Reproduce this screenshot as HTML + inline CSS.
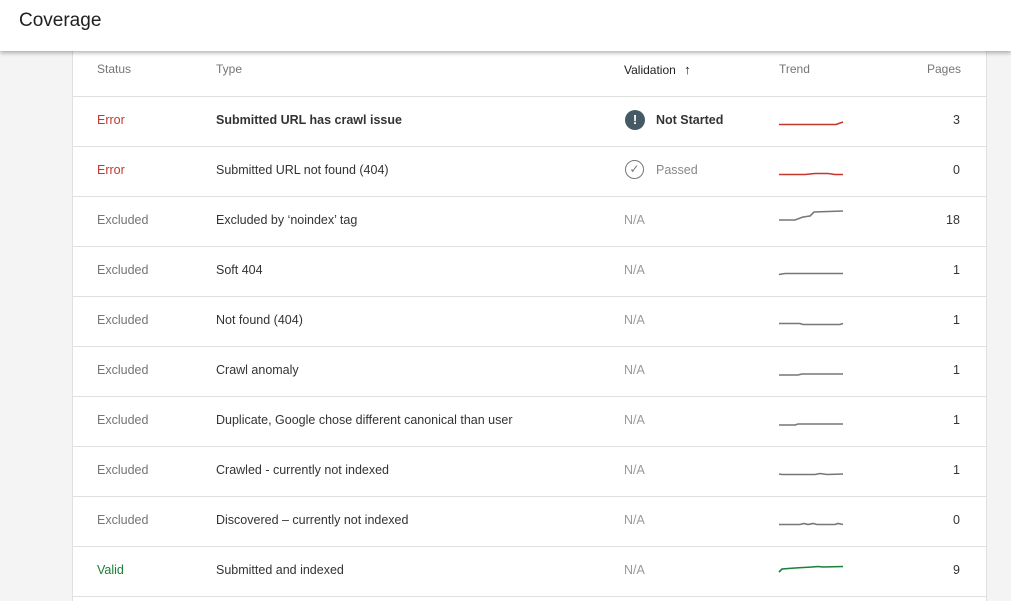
<!DOCTYPE html>
<html><head><style>
body{margin:0;width:1011px;height:601px;overflow:hidden;background:#f4f4f4;font-family:"Liberation Sans",Arial,sans-serif;position:relative}
.hdr{position:absolute;left:0;top:0;width:1011px;height:51px;background:#fff;box-shadow:0 2px 4px rgba(0,0,0,.3);z-index:2}
.hdr span{position:absolute;left:19px;top:10px;font-size:19px;color:#212121}
.card{position:absolute;left:72px;top:0;width:913px;height:601px;background:#fff;border-left:1px solid #e0e0e0;border-right:1px solid #e0e0e0}
.t{position:absolute;font-size:12.5px;white-space:nowrap;margin-top:1px}
.line{position:absolute;left:73px;width:913px;height:1px;background:#e0e0e0}
.g{color:#757575}.d{color:#333}
</style></head><body>
<div class="card"></div>
<div class="hdr"><span>Coverage</span></div>
<div class="t g" style="left:97px;top:61px;font-size:12px">Status</div>
<div class="t g" style="left:216px;top:61px;font-size:12px">Type</div>
<div class="t" style="left:624px;top:61px;font-size:12px;color:#222">Validation <span style="margin-left:5px;font-size:13px">&#8593;</span></div>
<div class="t g" style="left:779px;top:61px;font-size:12px">Trend</div>
<div class="t g" style="left:927px;top:61px;font-size:12px">Pages</div>
<div class="line" style="top:96px"></div><div class="line" style="top:146px"></div><div class="line" style="top:196px"></div><div class="line" style="top:246px"></div><div class="line" style="top:296px"></div><div class="line" style="top:346px"></div><div class="line" style="top:396px"></div><div class="line" style="top:446px"></div><div class="line" style="top:496px"></div><div class="line" style="top:546px"></div><div class="line" style="top:596px"></div>

<div class="t" style="left:97px;top:112px;color:#c5372c">Error</div>
<div class="t" style="left:216px;top:112px;color:#333;font-weight:bold">Submitted URL has crawl issue</div>
<div style="position:absolute;left:625px;top:110px;width:20px;height:20px;border-radius:50%;background:#455a64;color:#fff;font-weight:bold;font-size:13px;text-align:center;line-height:20px">!</div>
<div class="t" style="left:656px;top:112px;color:#333;font-weight:bold">Not Started</div>
<div class="t d" style="left:953px;top:112px">3</div>

<div class="t" style="left:97px;top:162px;color:#c5372c">Error</div>
<div class="t d" style="left:216px;top:162px">Submitted URL not found (404)</div>
<div style="position:absolute;left:625px;top:160px;width:17px;height:17px;border-radius:50%;border:1.5px solid #777;color:#777;font-size:12px;text-align:center;line-height:17px">&#10003;</div>
<div class="t g" style="left:656px;top:162px;color:#888">Passed</div>
<div class="t d" style="left:953px;top:162px">0</div>

<div class="t g" style="left:97px;top:212px">Excluded</div><div class="t d" style="left:216px;top:212px">Excluded by ‘noindex’ tag</div><div class="t g" style="left:624px;top:212px;color:#999">N/A</div><div class="t d" style="left:946px;top:212px">18</div>
<div class="t g" style="left:97px;top:262px">Excluded</div><div class="t d" style="left:216px;top:262px">Soft 404</div><div class="t g" style="left:624px;top:262px;color:#999">N/A</div><div class="t d" style="left:953px;top:262px">1</div>
<div class="t g" style="left:97px;top:312px">Excluded</div><div class="t d" style="left:216px;top:312px">Not found (404)</div><div class="t g" style="left:624px;top:312px;color:#999">N/A</div><div class="t d" style="left:953px;top:312px">1</div>
<div class="t g" style="left:97px;top:362px">Excluded</div><div class="t d" style="left:216px;top:362px">Crawl anomaly</div><div class="t g" style="left:624px;top:362px;color:#999">N/A</div><div class="t d" style="left:953px;top:362px">1</div>
<div class="t g" style="left:97px;top:412px">Excluded</div><div class="t d" style="left:216px;top:412px">Duplicate, Google chose different canonical than user</div><div class="t g" style="left:624px;top:412px;color:#999">N/A</div><div class="t d" style="left:953px;top:412px">1</div>
<div class="t g" style="left:97px;top:462px">Excluded</div><div class="t d" style="left:216px;top:462px">Crawled - currently not indexed</div><div class="t g" style="left:624px;top:462px;color:#999">N/A</div><div class="t d" style="left:953px;top:462px">1</div>
<div class="t g" style="left:97px;top:512px">Excluded</div><div class="t d" style="left:216px;top:512px">Discovered – currently not indexed</div><div class="t g" style="left:624px;top:512px;color:#999">N/A</div><div class="t d" style="left:953px;top:512px">0</div>
<div class="t" style="left:97px;top:562px;color:#188038">Valid</div><div class="t d" style="left:216px;top:562px">Submitted and indexed</div><div class="t g" style="left:624px;top:562px;color:#999">N/A</div><div class="t d" style="left:953px;top:562px">9</div>

<svg width="1011" height="601" style="position:absolute;left:0;top:0" fill="none" stroke-width="1.6">
<polyline stroke="#c5372c" points="779,124.5 836,124.5 843,122"/>
<polyline stroke="#c5372c" points="779,174.5 805,174.5 815,173.5 828,173.5 835,174.5 843,174.5"/>
<polyline stroke="#777" points="779,220 795,220 803,217 810,216 814,212 843,211"/>
<polyline stroke="#777" points="779,274.5 785,273.5 843,273.5"/>
<polyline stroke="#777" points="779,323.5 800,323.5 803,324.5 840,324.5 843,323.5"/>
<polyline stroke="#777" points="779,375 798,375 802,374 843,374"/>
<polyline stroke="#777" points="779,425 795,425 798,424 843,424"/>
<polyline stroke="#777" points="779,474 782,474.5 815,474.5 820,473.5 827,474.5 843,474"/>
<polyline stroke="#777" points="779,524.5 800,524.5 804,523.5 808,524.5 813,523.5 817,524.5 835,524.5 838,523.5 843,524.5"/>
<polyline stroke="#188038" points="779,572 782,569 795,568 812,567 818,566.5 823,567 843,566.5"/>
</svg>
</body></html>
